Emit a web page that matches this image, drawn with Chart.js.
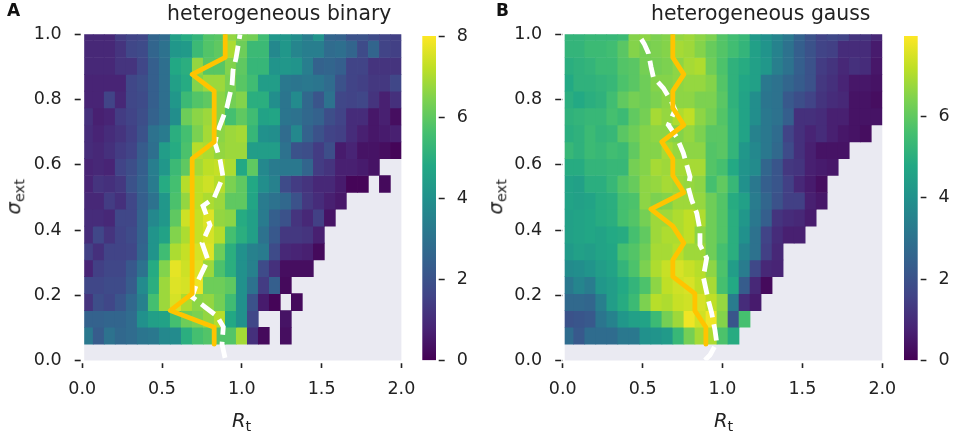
<!DOCTYPE html>
<html>
<head>
<meta charset="utf-8">
<title>heterogeneous</title>
<script src="https://cdn.jsdelivr.net/npm/chart.js@4/dist/chart.umd.min.js"></script>
<style>
  html, body { margin: 0; padding: 0; background: #fff; width: 956px; height: 436px; overflow: hidden; }
  canvas { position: absolute; top: 0; }
  .lbl { position: absolute; font-family: "DejaVu Sans"; color: #222; white-space: nowrap; line-height: 1; }
  .lbl i { font-size: 19.5px; }
  .lbl sub { font-size: 14.5px; vertical-align: -4px; line-height: 0; }
  .letter { font-weight: bold; font-size: 17px; color: #111; }
  .title { font-size: 20.4px; }
  .rot { transform: rotate(-90deg); transform-origin: center; }
</style>
</head>
<body>
<canvas id="chartA"></canvas>
<canvas id="barA"></canvas>
<canvas id="chartB"></canvas>
<canvas id="barB"></canvas>
<div class="lbl letter" style="left:7px;top:2px">A</div>
<div class="lbl letter" style="left:496px;top:2px">B</div>
<div class="lbl title" style="left:167px;top:3px">heterogeneous binary</div>
<div class="lbl title" style="left:651px;top:3px">heterogeneous gauss</div>
<div class="lbl" style="left:232px;top:411px"><i>R</i><sub>t</sub></div>
<div class="lbl" style="left:714px;top:411px"><i>R</i><sub>t</sub></div>
<div class="lbl rot" style="left:-8px;top:187px;width:44px;text-align:center"><i>σ</i><sub>ext</sub></div>
<div class="lbl rot" style="left:474px;top:187px;width:44px;text-align:center"><i>σ</i><sub>ext</sub></div>
<script>
// heat values, rows listed from the top of the plot down, N = no data
const N = null;
const heatBinary = [
  [.9,.9,.9,1.4,1.6,1.7,2.6,2.8,4.5,4.9,5.2,5.8,5.9,6.7,6.4,6.3,5.5,4.2,4.2,3.9,3.4,4.1,2.6,2.5,2,2,1.8,1.6,1.5],
  [.9,.9,.9,1.2,1.7,1.8,2.6,3,4.2,4.3,5.4,5.8,6,7,6.2,5.4,5.4,3.7,4.2,3.6,3.4,3.4,2.8,2.9,2.6,1.8,2.6,1.6,1.5],
  [.9,.9,.9,1.2,1.2,1.7,2.4,2.9,4.8,5,6.7,5.9,5.9,6.5,6,5.3,5.3,4.1,4.2,4.1,3.4,2.5,2.6,2.4,1.6,1.6,1.2,1.2,1.2],
  [.8,.8,.8,.8,1.7,1.9,2.4,2.9,4.5,4.9,6.5,6.8,6.8,6.4,5.9,5.5,4.4,4.4,3.2,3.1,3.2,3.1,2.8,2,1.6,1.5,1.3,1.3,1.7],
  [.8,.8,1.6,.9,1.7,1.8,2.4,2.9,4.2,5.4,5.8,6,6.6,6.3,6.5,5,5,3.9,3.1,3.8,2.7,2.1,3,1.7,1.6,1.7,1.2,.7,1.1],
  [1.1,.7,.8,1.4,1.6,1.9,2.5,2.9,3.9,6.2,6.6,6.8,6.6,5.6,6,5.5,4.6,4.7,3.1,3,2.7,2.5,1.9,1.6,1,1,.5,.7,.3],
  [1,.8,1,1.2,1.5,2,3,3.3,5,5.6,6.4,6.9,6.6,6.8,6.9,5.3,4,3.9,2.8,3.7,2.5,2,1.6,1.5,1,.7,.5,.6,.7],
  [1,.9,1.1,1.4,1.6,2.3,2.9,4.4,4.9,5.7,7.1,7,6.7,6.8,6.8,4.4,4.4,4.4,3,2,1.9,1.4,1.9,.6,.8,.4,.4,.3,.1],
  [.8,.9,.8,1.6,1.9,2.4,3.4,4.2,5.4,6,6.9,7.2,7.3,7,4.8,6,3.7,3.3,3.2,3.2,2.6,1.4,1.2,.7,.7,.6,.4,N,N],
  [.8,1.2,1.1,1.3,2,2.5,3.3,4.9,5.6,7.1,7.2,7.4,7.1,6.4,6,4.8,3.9,3.5,1.8,1.4,1.2,.9,.9,.6,.1,.1,N,.2,N],
  [.9,.9,1.4,1.1,1.7,2.4,3,4.2,5.7,6.7,7.2,7,6.8,6,6,4.7,3.3,3,2.7,2,1.3,1,.7,.5,N,N,N,N,N],
  [1,1,.9,1.7,1.7,2.5,3.7,4.2,6,7.4,7.3,7.6,6.7,6.6,4.9,4.5,3.3,2.4,2,1.2,.9,1.5,.4,N,N,N,N,N,N],
  [1,1.7,1.2,1.6,1.8,2.5,4.1,4.6,6.5,7,7.3,7.5,7.1,5.6,5,4.5,3,2.2,1.3,1.3,1.2,.7,N,N,N,N,N,N,N],
  [1.5,1.1,1.6,1.6,1.7,2.6,4.1,5.5,7,7.3,7.5,7.6,6.2,5,4,3.5,3.3,1.8,.9,.8,.7,.2,N,N,N,N,N,N,N],
  [.8,1.5,1.7,1.7,2.2,3,4.9,6.5,7.7,7.4,7.6,6.8,5.7,5,4,3.5,1.8,1.1,.3,.3,.3,N,N,N,N,N,N,N,N],
  [1.7,1.7,1.8,1.8,2.3,3.8,5,6.8,7.6,7.5,7.8,6.2,6.2,6,4,3,1.4,2.4,.2,N,N,N,N,N,N,N,N,N,N],
  [1.2,1.9,1.7,2.1,2.7,3.5,5.6,6.8,7.5,7,6.6,6.7,6.3,5.5,4,2,.6,.1,N,.2,N,N,N,N,N,N,N,N,N],
  [2.5,2.5,2.6,2.6,2.8,4,4.5,4.6,5.6,6.2,6.4,6.7,7.1,4.8,4,1.7,N,N,.4,N,N,N,N,N,N,N,N,N,N],
  [3.2,2.3,3,2.7,2.8,3.1,3.2,3.7,3.8,5,5.6,5.8,5.8,5.8,6.9,1.1,.2,N,.3,N,N,N,N,N,N,N,N,N,N]
];
const heatGauss = [
  [5.2,5.2,5.3,5.3,5.3,5.4,6.5,6.6,6.4,6.5,6.7,6.8,6.6,6.4,5.8,5.5,5.3,4.3,4,3.6,3.2,2.5,2,1.6,1.7,1.6,1.2,1.2,.9],
  [5.2,5.2,5.4,5.4,5.5,5.9,6.5,6.3,6.4,6.5,6.9,6.8,6.5,6.1,5.8,5.5,5.2,4.5,4.1,3.5,3,2.4,2,1.6,1.5,1,1,1,.6],
  [5,5.1,5.2,5.4,5.4,5.8,5.9,6.3,6.3,6.4,6.6,6.9,7,6.2,5.7,5.1,4.9,4.5,4.2,3.4,3,2.4,2,1.4,1.2,.9,1.1,1,.5],
  [4.8,5.1,5.1,5.2,5.3,5.7,5.9,6.2,6.5,6.5,6.6,6.7,6.7,6.5,5.8,5.1,4.7,4.5,3.2,3,2.6,2.3,2,1.3,1.1,.8,.5,.5,.4],
  [5,4.8,5,5.1,5.5,6,6.3,6.2,6.4,6.6,6.6,6.6,6.4,6.4,5.9,5.1,4.6,3.9,3.1,3,2.2,1.9,1.6,1.2,1,.9,.4,.4,.3],
  [5.1,5.2,5.3,5.3,5.6,5.4,6,6.3,6.9,6.7,7,7.2,6.6,6.3,5.8,5.2,4.6,3.9,3.2,3,2.4,1.1,1.1,1,.7,.7,.4,.4,.4],
  [5,5.1,5.4,5.2,5.3,5.9,6.2,6.5,6.6,6.6,6.5,6.7,6.4,5.9,5.9,5.2,4.6,3.5,3.2,2.8,1.6,1.1,.8,1,.7,.5,.4,.3,N],
  [5.3,5.1,5.4,5.3,5.5,5.4,6,6.5,6.5,6.9,6.7,6.6,6.6,5.8,5.9,5.2,4.2,3.7,3.2,2.7,1.8,1.1,.7,.4,.4,.4,N,N,N],
  [4.9,4.9,5.2,5.2,5.3,5.3,6.3,6.5,6.9,6.8,6.9,6.9,6.9,5.8,5.6,4.8,4.1,3.8,2.6,2.1,1.3,1.2,.7,.6,.5,N,N,N,N],
  [4.6,4.5,5,5,5.3,5.8,6.1,6.6,6.7,6.9,6.8,6.7,6.6,5.6,6,5.3,4,3.2,2.4,2.1,1.5,.9,.6,.3,N,N,N,N,N],
  [4.6,4.5,4.6,4.9,5,5.6,5.7,6.6,6.4,6.5,6.8,6.8,6.7,6.2,5.8,4.9,4.5,3.3,2.6,2,1.5,1.5,.7,.5,N,N,N,N,N],
  [4.5,4.6,4.7,4.9,5,5.6,5.8,6.3,6.8,6.8,7,7.2,7,6.2,5.8,5,4.2,3.2,2.4,1.2,1,.9,.6,N,N,N,N,N,N],
  [4.5,4.6,4.7,4.6,4.8,4.9,5.6,6,6.8,7,7,7.2,6.6,6.2,5.8,5,4,3,1.6,1,.7,.7,N,N,N,N,N,N,N],
  [4.3,4.5,4.4,4.6,4.7,5.6,5.8,6.2,6.9,6.9,7.1,6.8,6.8,6.2,5.6,5,3.6,3,1.5,.9,N,N,N,N,N,N,N,N,N],
  [3.8,3.9,4.1,4.4,4.6,5.2,5.7,6.4,7,7.3,7.5,7.3,7.1,6.6,5.7,4.4,3.3,1.7,.9,.8,N,N,N,N,N,N,N,N,N],
  [3.2,3.6,3.3,4.2,4.4,4.8,5.2,5.7,6.6,7.2,7.4,7.5,7.2,6.9,5.6,4.8,2.3,.9,.2,N,N,N,N,N,N,N,N,N,N],
  [2.7,2.7,2.6,3.4,4.4,4.9,5.4,6.4,7.1,7,7.3,7.4,7.5,7.2,6.7,3.3,1,.6,N,N,N,N,N,N,N,N,N,N,N],
  [2,2.1,2.2,3.1,3.5,4.2,4.5,4.6,5.4,6.3,6.8,7.8,7.4,7.8,6.5,2.1,5.6,N,N,N,N,N,N,N,N,N,N,N,N],
  [2.8,2.2,2.8,2.8,2.8,3.2,3.2,4,4.1,4.3,5.3,6.3,6.9,7,5.7,4.9,N,N,N,N,N,N,N,N,N,N,N,N,N]
];
// row edges of the heat map on the sigma axis, bottom to top
const sigmaEdges = [.05,.102,.153,.205,.257,.308,.36,.412,.464,.515,.567,.619,.67,.722,.774,.826,.877,.929,.981,1.03];
// orange line, one Rt per sigma edge
const orangeBinary = [.827,.827,.552,.689,.689,.689,.689,.689,.689,.689,.689,.689,.827,.827,.827,.827,.689,.896,.896,.896];
const orangeGauss = [.896,.896,.827,.827,.689,.689,.758,.689,.552,.758,.689,.689,.62,.758,.689,.689,.758,.689,.689,.689];
// white dashed line
const whiteBinaryRt = [.895,.876,.884,.845,.769,.688,.719,.788,.751,.801,.757,.826,.882,.864,.832,.845,.907,.939,.945,.964,.989];
const whiteBinarySigma = [.008,.05,.103,.136,.164,.195,.238,.308,.36,.415,.474,.498,.563,.615,.667,.697,.777,.845,.89,.927,1];
const whiteGaussRt = [.89,.922,.964,.953,.932,.911,.88,.901,.859,.859,.839,.807,.785,.797,.755,.713,.661,.703,.682,.63,.567,.553,.536,.511,.473];
const whiteGaussSigma = [.001,.017,.054,.093,.146,.185,.256,.314,.354,.4,.452,.492,.532,.563,.636,.685,.722,.768,.792,.835,.869,.9,.943,.97,1];
const rtTicks = [0, .5, 1, 1.5, 2];
const sigmaTicks = [0, .2, .4, .6, .8, 1];
const cbarBinaryMax = 8;
const cbarGaussMax = 7.97;

const viridis = ['#440154','#482475','#414487','#355f8d','#2a788e','#21918c','#22a884','#44bf70','#7ad151','#bddf26','#fde725'];
const font = { family: 'DejaVu Sans', size: 17.5 };
const textColor = '#222';
const plotTop = 34.3, plotBottom = 360.5;

function hexRgb(h) {
    return [1, 3, 5].map(i => parseInt(h.substr(i, 2), 16));
}

function viridisColor(t) {
    t = Math.max(0, Math.min(1, t)) * (viridis.length - 1);
    const i = Math.min(Math.floor(t), viridis.length - 2);
    const a = hexRgb(viridis[i]), b = hexRgb(viridis[i + 1]);
    const c = a.map((v, k) => Math.round(v + (b[k] - v) * (t - i)));
    return 'rgb(' + c.join(',') + ')';
}

// grey background of the axes, it starts 2px right of the 0.0 tick
const greyBack = {
    id: 'greyBack',
    beforeDatasetsDraw(chart) {
        const a = chart.chartArea;
        chart.ctx.save();
        chart.ctx.fillStyle = '#EAEAF2';
        chart.ctx.fillRect(a.left + 2, a.top, a.right - a.left - 2, a.bottom - a.top);
        chart.ctx.restore();
    }
};

function createHeatChart(canvasId, left, leftPad, plotWidth, heat, vmax, orange, whiteRt, whiteSigma) {
    const width = Math.ceil(leftPad + plotWidth) + 40;
    const canvas = document.getElementById(canvasId);
    canvas.style.left = left + 'px';
    canvas.style.width = width + 'px';
    canvas.style.height = '436px';
    canvas.width = width;
    canvas.height = 436;

    const datasets = [{
        type: 'line',
        data: orange.map((rt, i) => ({ x: rt, y: sigmaEdges[i] })),
        xAxisID: 'xt', yAxisID: 'y',
        borderColor: '#FFC400', borderWidth: 4.8,
        borderCapStyle: 'round', borderJoinStyle: 'round',
        pointRadius: 0, clip: 0, order: 0
    }, {
        type: 'line',
        data: whiteRt.map((rt, i) => ({ x: rt, y: whiteSigma[i] })),
        xAxisID: 'xt', yAxisID: 'y',
        borderColor: '#fff', borderWidth: 4.8, borderDash: [16.5, 7],
        pointRadius: 0, clip: 0, order: 1
    }];
    heat.forEach((row, r) => {
        const k = heat.length - 1 - r;
        datasets.push({
            data: row.map(v => v === null ? null : [sigmaEdges[k], sigmaEdges[k + 1]]),
            backgroundColor: row.map(v => v === null ? 'transparent' : viridisColor(v / vmax)),
            borderWidth: 0,
            xAxisID: 'x', yAxisID: 'y',
            grouped: false, barPercentage: 1, categoryPercentage: 1,
            clip: { left: -2, top: 0, right: 0, bottom: 0 },
            order: 2
        });
    });

    new Chart(canvas, {
        type: 'bar',
        data: { labels: heat[0].map((v, j) => j), datasets: datasets },
        options: {
            responsive: false, animation: false, events: [],
            layout: { padding: { left: 0, right: width - leftPad - plotWidth, top: plotTop, bottom: 0 } },
            plugins: { legend: { display: false }, tooltip: { enabled: false } },
            scales: {
                x: { type: 'category', display: false, grid: { display: false } },
                xt: {
                    type: 'linear', position: 'bottom', min: 0, max: 2, offset: false,
                    afterBuildTicks: s => { s.ticks = rtTicks.map(v => ({ value: v })); },
                    afterFit: s => { s.height = 436 - plotBottom; },
                    border: { display: false },
                    grid: {
                        offset: false, drawOnChartArea: false, tickLength: 7.5, tickWidth: 1.6, tickColor: textColor,
                        tickBorderDash: [0, 2.2, 5.3, 2]
                    },
                    ticks: { color: textColor, font: font, padding: 11, maxRotation: 0, callback: v => v.toFixed(1) }
                },
                y: {
                    type: 'linear', position: 'left', min: 0, max: 1,
                    afterBuildTicks: s => { s.ticks = sigmaTicks.map(v => ({ value: v })); },
                    afterFit: s => { s.width = leftPad; },
                    border: { display: false },
                    grid: {
                        drawOnChartArea: false, tickLength: 7.5, tickWidth: 1.6, tickColor: textColor,
                        tickBorderDash: [6, 1.5]
                    },
                    ticks: { color: textColor, font: font, padding: 13, callback: v => v.toFixed(1) }
                }
            }
        },
        plugins: [greyBack]
    });
}

function createColorbar(canvasId, left, width, leftPad, vmax) {
    const canvas = document.getElementById(canvasId);
    canvas.style.left = left + 'px';
    canvas.style.width = width + 'px';
    canvas.style.height = '436px';
    canvas.width = width;
    canvas.height = 436;
    new Chart(canvas, {
        type: 'bar',
        data: {
            labels: ['cbar'],
            datasets: [{
                data: [[0, vmax]],
                borderWidth: 0, barPercentage: 1, categoryPercentage: 1,
                backgroundColor: c => {
                    const a = c.chart.chartArea;
                    if (!a) return 'transparent';
                    const g = c.chart.ctx.createLinearGradient(0, a.bottom, 0, a.top);
                    viridis.forEach((col, i) => g.addColorStop(i / (viridis.length - 1), col));
                    return g;
                }
            }]
        },
        options: {
            responsive: false, animation: false, events: [],
            layout: { padding: { left: leftPad, right: 0, top: 36, bottom: 436 - plotBottom } },
            plugins: { legend: { display: false }, tooltip: { enabled: false } },
            scales: {
                x: { display: false, grid: { display: false } },
                y: {
                    position: 'right', min: 0, max: vmax,
                    afterFit: s => { s.width = width - leftPad - 13.7; },
                    border: { display: false },
                    grid: {
                        drawOnChartArea: false, tickLength: 8.7, tickWidth: 1.6, tickColor: textColor,
                        tickBorderDash: [0, 2.7, 6, 2]
                    },
                    ticks: { color: textColor, font: font, padding: 12, stepSize: 2, includeBounds: false, callback: v => v.toFixed(0) }
                }
            }
        }
    });
}

createHeatChart('chartA', 0, 82.2, 319.2, heatBinary, cbarBinaryMax, orangeBinary, whiteBinaryRt, whiteBinarySigma);
createHeatChart('chartB', 478, 84.7, 319.6, heatGauss, cbarGaussMax, orangeGauss, whiteGaussRt, whiteGaussSigma);
createColorbar('barA', 400, 80, 22.3, cbarBinaryMax);
createColorbar('barB', 882, 74, 22, cbarGaussMax);
</script>
</body>
</html>
